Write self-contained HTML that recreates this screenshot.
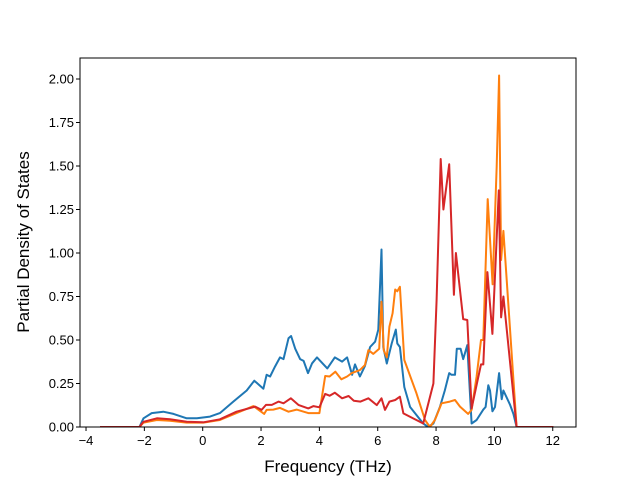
<!DOCTYPE html>
<html><head><meta charset="utf-8"><style>
body{margin:0;background:#fff;}
svg text{font-family:"Liberation Sans","DejaVu Sans",sans-serif;}
</style></head><body>
<svg id="chart" width="640" height="480" xmlns="http://www.w3.org/2000/svg"></svg>
<script>
const xTicks = [-4,-2,0,2,4,6,8,10,12];
const yTicks = [0,0.25,0.5,0.75,1.0,1.25,1.5,1.75,2.0];
const blueX = [-3.52,-2.17,-2.03,-1.75,-1.35,-1.0,-0.55,-0.2,0.25,0.59,1.05,1.51,1.77,2.08,2.19,2.31,2.48,2.65,2.77,2.94,3.03,3.17,3.34,3.46,3.61,3.75,3.92,4.27,4.53,4.78,4.95,5.12,5.22,5.39,5.56,5.74,5.91,6.02,6.13,6.19,6.31,6.48,6.62,6.67,6.76,6.91,7.11,7.56,7.73,7.91,8.13,8.30,8.45,8.53,8.65,8.71,8.84,8.93,9.07,9.22,9.39,9.62,9.70,9.79,9.85,9.93,10.02,10.16,10.25,10.31,10.53,10.65,10.76,12.02];
const blueY = [0,0,0.05,0.08,0.088,0.075,0.05,0.05,0.06,0.08,0.146,0.21,0.266,0.22,0.30,0.29,0.347,0.40,0.39,0.51,0.523,0.45,0.39,0.38,0.31,0.366,0.40,0.337,0.40,0.376,0.40,0.30,0.36,0.29,0.35,0.46,0.49,0.56,1.02,0.46,0.365,0.48,0.56,0.48,0.46,0.23,0.115,0.02,0,0.02,0.115,0.21,0.31,0.30,0.30,0.45,0.45,0.39,0.47,0.02,0.04,0.10,0.115,0.24,0.21,0.09,0.115,0.31,0.16,0.21,0.13,0.075,0,0];
const orangeX = [-3.52,-2.17,-2.03,-1.57,-1.12,-0.55,0.02,0.59,1.16,1.74,2.11,2.19,2.42,2.65,2.94,3.22,3.62,4.0,4.2,4.35,4.55,4.75,4.95,5.11,5.39,5.56,5.68,5.85,6.05,6.13,6.21,6.31,6.4,6.51,6.6,6.67,6.76,6.91,7.33,7.62,7.79,7.96,8.19,8.47,8.65,8.82,9.1,9.22,9.39,9.54,9.62,9.77,9.94,10.08,10.16,10.23,10.31,10.76,12.02];
const orangeY = [0,0,0.025,0.04,0.036,0.025,0.025,0.04,0.08,0.12,0.075,0.098,0.10,0.11,0.088,0.10,0.08,0.08,0.293,0.29,0.318,0.274,0.29,0.31,0.327,0.356,0.442,0.42,0.45,0.72,0.44,0.40,0.577,0.654,0.79,0.78,0.806,0.385,0.193,0.04,0,0.04,0.136,0.146,0.155,0.117,0.075,0.098,0.29,0.50,0.50,1.31,0.82,1.50,2.02,0.96,1.127,0,0];
const redX = [-3.52,-2.17,-2.03,-1.57,-1.12,-0.55,0.02,0.59,1.16,1.8,2.02,2.17,2.37,2.6,2.77,3.02,3.28,3.62,3.8,4.0,4.2,4.35,4.53,4.78,5.0,5.18,5.41,5.68,5.97,6.13,6.25,6.4,6.6,6.76,6.88,7.56,7.91,8.02,8.16,8.25,8.45,8.61,8.68,8.93,9.07,9.22,9.54,9.62,9.76,9.93,10.15,10.23,10.31,10.76,12.02];
const redY = [0,0,0.03,0.05,0.044,0.03,0.027,0.044,0.088,0.117,0.098,0.127,0.127,0.146,0.136,0.165,0.127,0.107,0.12,0.113,0.19,0.18,0.197,0.165,0.178,0.151,0.146,0.165,0.126,0.165,0.098,0.146,0.155,0.174,0.078,0.02,0.25,0.73,1.54,1.25,1.51,0.76,1.0,0.62,0.615,0.107,0.36,0.36,0.89,0.535,1.36,0.63,0.75,0,0];

const NS="http://www.w3.org/2000/svg";
const svg=document.getElementById('chart');
const L=80,R=576,T=58,B=427;
const sx=v=>202.7+v*29.17;
const sy=v=>427-v*174;
function mk(tag,attrs,parent){const e=document.createElementNS(NS,tag);for(const k in attrs)e.setAttribute(k,attrs[k]);(parent||svg).appendChild(e);return e;}
const clip=mk('clipPath',{id:'pc'});mk('rect',{x:L,y:T,width:R-L,height:B-T},clip);
const g=mk('g',{'clip-path':'url(#pc)'});


function series(xs,ys,color,name){
  const d=xs.map((x,i)=>(i?'L':'M')+sx(x).toFixed(1)+' '+sy(ys[i]).toFixed(1)).join(' ');
  const p=mk('path',{d:d,fill:'none',stroke:color,'stroke-width':2,'stroke-linejoin':'round'},g);
  
  
}
series(blueX,blueY,'#1f77b4','series-blue');
series(orangeX,orangeY,'#ff7f0e','series-orange');
series(redX,redY,'#d62728','series-red');
const fr=mk('rect',{x:L,y:T,width:R-L,height:B-T,fill:'none',stroke:'#000','stroke-width':1});


xTicks.forEach(v=>{
  mk('line',{x1:sx(v),x2:sx(v),y1:B,y2:B+4,stroke:'#000'});
  const t=mk('text',{x:sx(v),y:B+18,'font-size':13,'text-anchor':'middle'});
  t.textContent=v<0?'\u2212'+(-v):String(v);
  
  
});
yTicks.forEach(v=>{
  mk('line',{x1:L-4,x2:L,y1:sy(v),y2:sy(v),stroke:'#000'});
  const t=mk('text',{x:L-6,y:sy(v)+4.5,'font-size':13,'text-anchor':'end'});
  t.textContent=v.toFixed(2);
  
  
});
const xl=mk('text',{x:328,y:472,'font-size':17,'text-anchor':'middle'});
xl.textContent='Frequency (THz)';


const yl=mk('text',{x:0,y:0,'font-size':17,'text-anchor':'middle',transform:'translate(29,242) rotate(-90)'});
yl.textContent='Partial Density of States';


</script>
</body></html>
